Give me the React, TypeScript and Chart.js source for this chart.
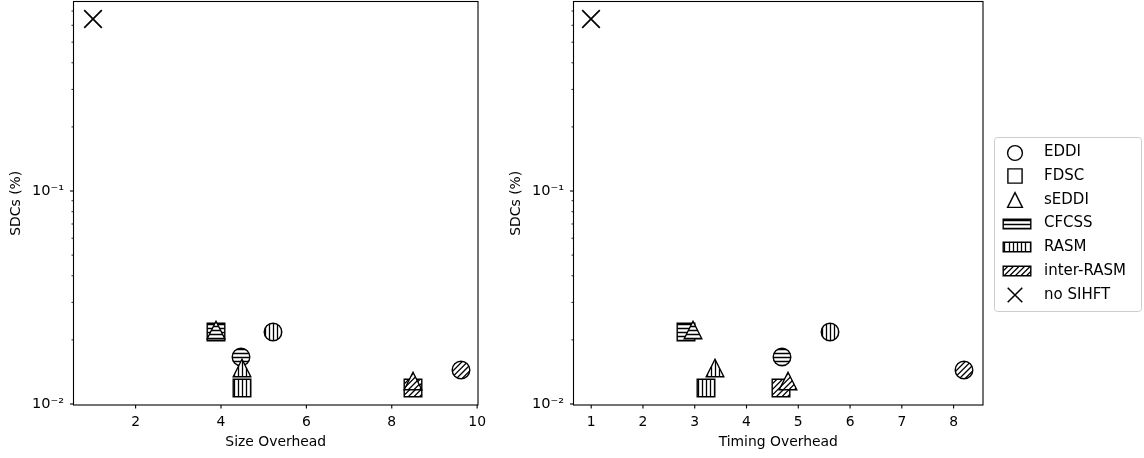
import React, { useEffect, useRef } from 'react';
import { Chart, registerables } from 'chart.js';

Chart.register(...registerables);

// ---------------- data ----------------
const techniques = ['CFCSS', 'RASM', 'inter-RASM'];
const hardenings = ['EDDI', 'FDSC', 'sEDDI'];
const baselineLabel = 'no SIHFT';

// SDC rates (%), one value per technique (CFCSS, RASM, inter-RASM)
const sdcEDDI = [0.0167, 0.0217, 0.0144];
const sdcFDSC = [0.0218, 0.0119, 0.0119];
const sdcSEDDI = [0.0223, 0.0147, 0.0128];
const sdcNoSihft = [0.642];

// size overhead
const sizeEDDI = [4.47, 5.21, 9.63];
const sizeFDSC = [3.89, 4.49, 8.5];
const sizeSEDDI = [3.89, 4.49, 8.5];
const sizeNoSihft = [1.0];

// timing overhead
const timingEDDI = [4.69, 5.62, 8.21];
const timingFDSC = [2.83, 3.21, 4.66];
const timingSEDDI = [2.97, 3.4, 4.81];
const timingNoSihft = [1.0];

const sizeTicks = [2, 4, 6, 8, 10];
const timingTicks = [1, 2, 3, 4, 5, 6, 7, 8];
const sdcTicks = [0.01, 0.02, 0.03, 0.04, 0.05, 0.06, 0.07, 0.08, 0.09, 0.1, 0.2, 0.3, 0.4, 0.5, 0.6, 0.7];
const sdcMajorTicks = [0.01, 0.1];
const sdcMajorLabels = ['10\u207B\u00B2', '10\u207B\u00B9'];

// ---------------- styles ----------------
const FONT_FAMILY = "'DejaVu Sans', 'Liberation Sans', sans-serif";
const FS = 13.9;
const LEGEND_FS = 15;
const FONT = { family: FONT_FAMILY, size: FS };
const HATCHES = ['-', '|', '/'];
const HV_PITCH = 4.2;
const DIAG_PITCH = 5.6;
const HATCH_LW = 1.3;

type Shape = 'circle' | 'square' | 'triangle' | 'cross' | 'patch';

function makeMarker(shape: Shape, hatch: string, w: number, h: number, lw: number): HTMLCanvasElement {
  const pad = 2;
  let cw = Math.ceil(w + lw + pad * 2);
  let ch = Math.ceil(h + lw + pad * 2);
  if (cw % 2) cw += 1;
  if (ch % 2) ch += 1;
  const c = document.createElement('canvas');
  c.width = cw;
  c.height = ch;
  const ctx = c.getContext('2d')!;
  const cx = cw / 2;
  const cy = ch / 2;
  ctx.strokeStyle = '#000';
  if (shape === 'cross') {
    ctx.lineWidth = lw;
    ctx.beginPath();
    ctx.moveTo(cx - w / 2, cy - h / 2);
    ctx.lineTo(cx + w / 2, cy + h / 2);
    ctx.moveTo(cx + w / 2, cy - h / 2);
    ctx.lineTo(cx - w / 2, cy + h / 2);
    ctx.stroke();
    return c;
  }
  const trace = () => {
    ctx.beginPath();
    if (shape === 'circle') ctx.arc(cx, cy, w / 2, 0, Math.PI * 2);
    else if (shape === 'square' || shape === 'patch') ctx.rect(cx - w / 2, cy - h / 2, w, h);
    else {
      ctx.moveTo(cx, cy - h / 2);
      ctx.lineTo(cx + w / 2, cy + h / 2);
      ctx.lineTo(cx - w / 2, cy + h / 2);
      ctx.closePath();
    }
  };
  trace();
  ctx.fillStyle = '#fff';
  ctx.fill();
  if (hatch) {
    ctx.save();
    trace();
    ctx.clip();
    ctx.lineWidth = HATCH_LW;
    ctx.beginPath();
    if (hatch === '-') {
      for (let k = -8; k <= 8; k++) {
        const y = Math.round(cy + k * HV_PITCH) + 0.5;
        ctx.moveTo(0, y);
        ctx.lineTo(cw, y);
      }
    } else if (hatch === '|') {
      for (let k = -8; k <= 8; k++) {
        const x = Math.round(cx + k * HV_PITCH) + 0.5;
        ctx.moveTo(x, 0);
        ctx.lineTo(x, ch);
      }
    } else {
      for (let x = -ch - DIAG_PITCH * 2; x < cw + ch; x += DIAG_PITCH) {
        ctx.moveTo(x, ch);
        ctx.lineTo(x + ch, 0);
      }
    }
    ctx.stroke();
    ctx.restore();
  }
  trace();
  ctx.lineWidth = lw;
  ctx.stroke();
  return c;
}

function buildMarkers() {
  const S = 17.6;
  const LW = 1.4;
  return {
    circle: HATCHES.map((h) => makeMarker('circle', h, S, S, LW)),
    square: HATCHES.map((h) => makeMarker('square', h, S, S, LW)),
    triangle: HATCHES.map((h) => makeMarker('triangle', h, S, S, LW)),
    cross: makeMarker('cross', '', S, S, 1.7),
    legend: [
      makeMarker('circle', '', 14.8, 14.8, LW),
      makeMarker('square', '', 14.2, 14.2, LW),
      makeMarker('triangle', '', 14.8, 14.8, LW),
      makeMarker('patch', '-', 27.6, 9.4, LW),
      makeMarker('patch', '|', 27.6, 9.4, LW),
      makeMarker('patch', '/', 27.6, 9.4, LW),
      makeMarker('cross', '', 14.6, 14.6, 1.5),
    ],
  };
}

const crispPlugin = {
  id: 'crispMarkers',
  beforeDatasetsDraw(chart: any) {
    chart.ctx.imageSmoothingEnabled = false;
  },
  afterDatasetsDraw(chart: any) {
    chart.ctx.imageSmoothingEnabled = true;
  },
};

const framePlugin = {
  id: 'frameTicks',
  afterDraw(chart: any) {
    const { ctx, chartArea: a, scales } = chart;
    ctx.save();
    ctx.strokeStyle = '#000';
    const xs = scales.x;
    ctx.lineWidth = 1.1;
    ctx.beginPath();
    for (const t of xs.ticks) {
      const px = xs.getPixelForValue(t.value);
      ctx.moveTo(px, a.bottom);
      ctx.lineTo(px, a.bottom + 3.5);
    }
    ctx.stroke();
    const ys = scales.y;
    for (const t of ys.ticks) {
      const major = sdcMajorTicks.includes(t.value);
      const py = ys.getPixelForValue(t.value);
      ctx.lineWidth = major ? 1.1 : 0.85;
      ctx.beginPath();
      ctx.moveTo(a.left, py);
      ctx.lineTo(a.left - (major ? 3.5 : 2), py);
      ctx.stroke();
    }
    ctx.lineWidth = 1.1;
    ctx.strokeRect(a.left, a.top, a.right - a.left, a.bottom - a.top);
    ctx.restore();
  },
};

function makeLegendPlugin(icons: HTMLCanvasElement[]) {
  const labels = [...hardenings, ...techniques, baselineLabel];
  return {
    id: 'sideLegend',
    afterDraw(chart: any) {
      const { ctx, chartArea } = chart;
      const left = Math.round(chartArea.right) + 11;
      const top = 137;
      const width = 147;
      const height = 174;
      ctx.save();
      ctx.beginPath();
      ctx.roundRect(left + 0.5, top + 0.5, width, height, 3);
      ctx.fillStyle = 'rgba(255,255,255,0.8)';
      ctx.fill();
      ctx.strokeStyle = '#cccccc';
      ctx.lineWidth = 1;
      ctx.stroke();
      ctx.font = `${LEGEND_FS}px ${FONT_FAMILY}`;
      ctx.fillStyle = '#000';
      ctx.textBaseline = 'middle';
      ctx.textAlign = 'left';
      labels.forEach((lab, i) => {
        const cy = 152.5 + i * 23.7;
        const isPatch = i >= 3 && i <= 5;
        const cx = left + (isPatch ? 23.2 : 21.3);
        const img = icons[i];
        ctx.drawImage(img, Math.round(cx - img.width / 2), Math.round(cy - img.height / 2));
        ctx.fillText(lab, left + 50, cy);
      });
      ctx.restore();
    },
  };
}

function makeConfig(
  xE: number[], xF: number[], xS: number[], xN: number[],
  xMin: number, xMax: number, xTicks: number[], xTitle: string,
  padRight: number, mk: any, extraPlugins: any[]
): any {
  const pts = (xs: number[], ys: number[]) => xs.map((x, i) => ({ x, y: ys[i] }));
  const common = { showLine: false, pointRadius: 9, pointHoverRadius: 9, borderWidth: 0, borderColor: '#000', backgroundColor: '#fff' };
  return {
    type: 'scatter',
    data: {
      datasets: [
        { label: baselineLabel, data: pts(xN, sdcNoSihft), pointStyle: mk.cross, ...common },
        { label: hardenings[2], data: pts(xS, sdcSEDDI), pointStyle: mk.triangle, ...common },
        { label: hardenings[1], data: pts(xF, sdcFDSC), pointStyle: mk.square, ...common },
        { label: hardenings[0], data: pts(xE, sdcEDDI), pointStyle: mk.circle, ...common },
      ],
    },
    options: {
      responsive: false,
      animation: false,
      devicePixelRatio: 1,
      events: [],
      layout: { autoPadding: false, padding: { left: 0, right: padRight, top: 1.5, bottom: 0 } },
      plugins: { legend: { display: false }, tooltip: { enabled: false } },
      scales: {
        x: {
          type: 'linear',
          min: xMin,
          max: xMax,
          afterBuildTicks: (s: any) => { s.ticks = xTicks.map((v) => ({ value: v })); },
          afterFit: (s: any) => { s.height = 53; s.paddingLeft = 0; s.paddingRight = 0; },
          grid: { display: false, drawTicks: false },
          border: { display: false },
          ticks: { autoSkip: false, maxRotation: 0, minRotation: 0, padding: 8.7, color: '#000', font: FONT, callback: (v: number) => String(v) },
          title: { display: true, text: xTitle, color: '#000', font: FONT, padding: { top: 0, bottom: 7.7 } },
        },
        y: {
          type: 'logarithmic',
          min: 0.00989,
          max: 0.776,
          afterBuildTicks: (s: any) => { s.ticks = sdcTicks.map((v) => ({ value: v })); },
          afterFit: (s: any) => { s.width = 73.5; s.paddingTop = 0; s.paddingBottom = 0; },
          grid: { display: false, drawTicks: false },
          border: { display: false },
          ticks: {
            autoSkip: false,
            padding: 9.5,
            color: '#000',
            font: { family: FONT_FAMILY, size: 14.6 },
            callback: (v: number) => {
              const k = sdcMajorTicks.indexOf(v);
              return k >= 0 ? sdcMajorLabels[k] : '';
            },
          },
          title: { display: true, text: 'SDCs (%)', color: '#000', font: FONT, padding: { top: 7.7, bottom: 0 } },
        },
      },
    },
    plugins: [crispPlugin, framePlugin, ...extraPlugins],
  };
}

export default function App() {
  const leftRef = useRef<HTMLCanvasElement>(null);
  const rightRef = useRef<HTMLCanvasElement>(null);

  useEffect(() => {
    const mk = buildMarkers();
    const c1 = new Chart(
      leftRef.current!,
      makeConfig(sizeEDDI, sizeFDSC, sizeSEDDI, sizeNoSihft, 0.545, 10.02, sizeTicks, 'Size Overhead', 22, mk, [])
    );
    const c2 = new Chart(
      rightRef.current!,
      makeConfig(timingEDDI, timingFDSC, timingSEDDI, timingNoSihft, 0.658, 8.568, timingTicks, 'Timing Overhead', 161, mk, [makeLegendPlugin(mk.legend)])
    );
    return () => {
      c1.destroy();
      c2.destroy();
    };
  }, []);

  return (
    <div style={{ position: 'absolute', left: 0, top: 0, width: 1144, height: 458, background: '#fff' }}>
      <canvas ref={leftRef} width={500} height={458} style={{ position: 'absolute', left: 0, top: 0, width: 500, height: 458, display: 'block' }} />
      <canvas ref={rightRef} width={644} height={458} style={{ position: 'absolute', left: 500, top: 0, width: 644, height: 458, display: 'block' }} />
    </div>
  );
}
